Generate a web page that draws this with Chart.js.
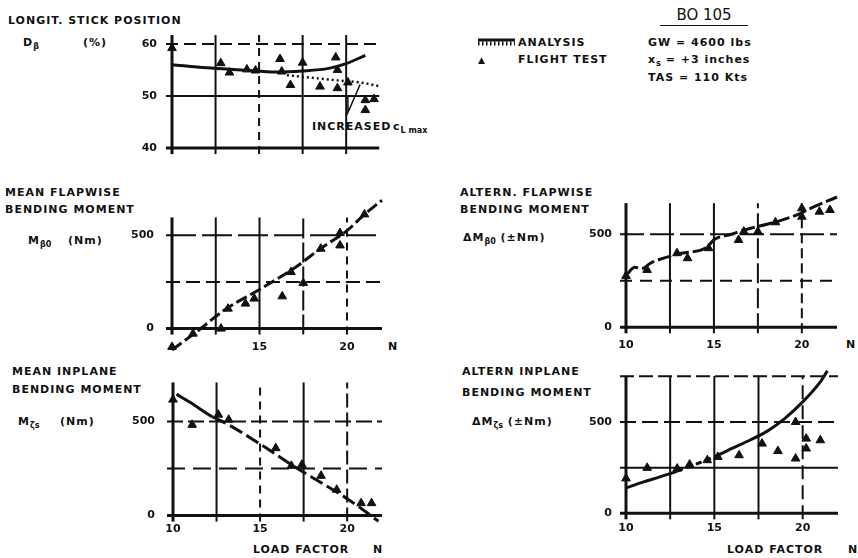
<!DOCTYPE html>
<html lang="en">
<head>
<meta charset="utf-8">
<title>BO 105 - load factor</title>
<script src="https://cdn.jsdelivr.net/npm/chart.js@4.4.1/dist/chart.umd.min.js"></script>
<style>
  body { margin: 0; background: #fff; }
  #lamina { position: relative; width: 858px; height: 558px; overflow: hidden; background: #fff; color: #111; }
  #lamina canvas { position: absolute; }
  .t { position: absolute; font: bold 11px "DejaVu Sans", sans-serif; letter-spacing: 1px; white-space: nowrap; line-height: 12px; }
  .t sub { font-size: 8px; vertical-align: -3px; letter-spacing: 0; }
  .titulo { position: absolute; left: 660px; top: 6px; width: 88px; text-align: center; font: 15px "DejaVu Sans", sans-serif; border-bottom: 1.5px solid #111; line-height: 19px; }
</style>
</head>
<body>
<div id="lamina">
  <div class="t" style="left:8px;top:15px">LONGIT. STICK POSITION</div>
  <div class="t" style="left:23px;top:37px">D<sub>β</sub></div>
  <div class="t" style="left:83px;top:37px">(%)</div>
  <div class="t" style="left:312px;top:121px">INCREASED</div>
  <div class="t" style="left:393px;top:121px">c<sub>L max</sub></div>

  <div class="t" style="left:5px;top:187px">MEAN FLAPWISE</div>
  <div class="t" style="left:5px;top:204px">BENDING MOMENT</div>
  <div class="t" style="left:28px;top:235px">M<sub>β0</sub></div>
  <div class="t" style="left:68px;top:235px">(Nm)</div>
  <div class="t" style="left:388px;top:341px">N</div>

  <div class="t" style="left:12px;top:366px">MEAN INPLANE</div>
  <div class="t" style="left:12px;top:384px">BENDING MOMENT</div>
  <div class="t" style="left:18px;top:416px">M<sub>ζs</sub></div>
  <div class="t" style="left:60px;top:416px">(Nm)</div>
  <div class="t" style="left:253px;top:544px">LOAD FACTOR</div>
  <div class="t" style="left:373px;top:544px">N</div>

  <div class="t" style="left:460px;top:187px">ALTERN. FLAPWISE</div>
  <div class="t" style="left:460px;top:204px">BENDING MOMENT</div>
  <div class="t" style="left:463px;top:232px">ΔM<sub>β0</sub> (±Nm)</div>
  <div class="t" style="left:846px;top:339px">N</div>

  <div class="t" style="left:462px;top:366px">ALTERN INPLANE</div>
  <div class="t" style="left:462px;top:387px">BENDING MOMENT</div>
  <div class="t" style="left:472px;top:416px">ΔM<sub>ζs</sub> (±Nm)</div>
  <div class="t" style="left:727px;top:544px">LOAD FACTOR</div>
  <div class="t" style="left:848px;top:544px">N</div>

  <!-- Leyenda y datos del vuelo -->
  <svg style="position:absolute;left:478px;top:38px" width="37" height="9">
    <line x1="0" y1="2" x2="37" y2="2" stroke="#111" stroke-width="3"/>
    <line x1="0" y1="5.5" x2="37" y2="5.5" stroke="#111" stroke-width="4" stroke-dasharray="1.5 2.5"/>
  </svg>
  <div class="t" style="left:518px;top:37px">ANALYSIS</div>
  <div class="t" style="left:478px;top:54px;font-size:9px">▲</div>
  <div class="t" style="left:518px;top:54px">FLIGHT TEST</div>
  <div class="titulo">BO 105</div>
  <div class="t" style="left:648px;top:37px">GW = 4600 lbs</div>
  <div class="t" style="left:648px;top:54px">x<sub>s</sub> = +3 inches</div>
  <div class="t" style="left:648px;top:72px">TAS = 110 Kts</div>
</div>

<script>
// Factor de carga: ticks y líneas verticales comunes
const ticksX = [10, 15, 20];
const ticksXFlap = [15, 20];
const lineasX = [10, 12.5, 15, 17.5, 20];

// Panel 1: posición longitudinal del mando (%)
const palancaTicks = [40, 50, 60];
const palancaAnalisisX = [10, 12, 14, 16, 17.5, 19, 20, 21.1];
const palancaAnalisisY = [56, 55.4, 55, 54.6, 54.8, 55.3, 56.2, 57.8];
const palancaClmaxX = [16.6, 18, 19.5, 21, 22];
const palancaClmaxY = [54, 53.5, 53, 52.5, 51.8];
const palancaVueloX = [10.0, 12.8, 13.3, 14.3, 14.8, 16.2, 16.3, 16.8, 17.5, 18.5, 19.4, 19.5, 19.5, 20.1, 21.1, 21.6, 21.1];
const palancaVueloY = [59.2, 56.3, 54.5, 55.1, 54.9, 57.1, 54.7, 52.1, 56.4, 51.8, 57.4, 55.0, 51.5, 52.6, 49.2, 49.4, 47.3];
const flechaX = [20.1, 20.1, 20.8];
const flechaY = [50.2, 46.8, 52.2];

// Panel 2: momento medio de flexión en batimiento (Nm)
const momentoTicks = [0, 500];
const flapMedioAnalisisX = [10, 11.5, 13, 15, 17, 18.5, 20, 21, 22];
const flapMedioAnalisisY = [-115, -10, 100, 210, 325, 430, 525, 612, 688];
const flapMedioVueloX = [10.0, 11.2, 12.8, 13.2, 14.2, 14.7, 16.3, 16.8, 17.5, 18.5, 19.6, 19.6, 21.0];
const flapMedioVueloY = [-98, -27, 0, 107, 134, 161, 173, 303, 244, 428, 512, 446, 612];

// Panel 3: momento medio de flexión en el plano (Nm)
const planoMedioAnalisisX = [10.2, 11, 12.3, 13, 15, 17, 18.5, 20, 21.8];
const planoMedioAnalisisY = [645, 600, 522, 492, 380, 258, 175, 90, -30];
const planoMedioVueloX = [10.0, 11.1, 12.6, 13.2, 15.9, 16.8, 17.4, 18.5, 19.4, 20.8, 21.4];
const planoMedioVueloY = [616, 482, 536, 509, 358, 264, 270, 211, 137, 66, 66];

// Panel 4: momento alterno de flexión en batimiento (±Nm)
const flapAltAnalisisX = [10.05, 10.5, 10.9, 11.4, 13, 14.6, 15.0, 16.0, 16.7, 18.6, 20, 20.4, 22];
const flapAltAnalisisY = [285, 322, 316, 345, 395, 430, 470, 500, 522, 568, 615, 635, 700];
const flapAltVueloX = [10.0, 11.2, 12.9, 13.5, 14.7, 16.4, 16.7, 17.5, 18.5, 20.0, 20.0, 21.0, 21.6];
const flapAltVueloY = [276, 308, 398, 371, 425, 469, 514, 514, 564, 639, 594, 621, 630];

// Panel 5: momento alterno de flexión en el plano (±Nm)
const planoAltAnalisisX = [10, 11, 12, 12.9, 13.6, 14.3, 15.2, 16, 17, 18, 19, 20, 21, 21.4];
const planoAltAnalisisY = [140, 172, 202, 231, 256, 282, 318, 355, 400, 450, 520, 610, 720, 780];
const planoAltVueloX = [10.0, 11.2, 12.9, 13.6, 14.6, 15.2, 16.4, 17.7, 18.6, 19.6, 19.6, 20.2, 20.2, 21.0];
const planoAltVueloY = [191, 249, 245, 267, 291, 309, 318, 382, 341, 500, 300, 409, 355, 400];

const negro = '#111';
const fuente = { family: 'DejaVu Sans', weight: 'bold', size: 11 };
const liso = [];

function unir(xs, ys) {
    return xs.map((x, i) => ({ x: x, y: ys[i] }));
}

function serieAnalisis(xs, ys, extra) {
    return Object.assign({
        data: unir(xs, ys),
        showLine: true,
        borderColor: negro,
        borderWidth: 3,
        pointRadius: 0,
        cubicInterpolationMode: 'monotone',
        clip: false
    }, extra || {});
}

function serieVuelo(xs, ys) {
    return {
        data: unir(xs, ys),
        pointStyle: 'triangle',
        pointRadius: 5,
        backgroundColor: negro,
        borderColor: negro,
        borderWidth: 1,
        clip: false
    };
}

// Quita el relleno que Chart.js reserva para las etiquetas, así el área queda fija
function sinRelleno(s) {
    s.paddingTop = 0;
    s.paddingBottom = 0;
    s.paddingLeft = 0;
    s.paddingRight = 0;
}

// Dibuja la rejilla del original: líneas lisas o a trazos, con marcas que sobresalen
const pluginRejilla = {
    id: 'rejilla',
    beforeDatasetsDraw(chart, args, opts) {
        const { ctx } = chart;
        const x = chart.scales.x;
        const y = chart.scales.y;
        const yBase = y.getPixelForValue(opts.base);
        const yTope = y.getPixelForValue(opts.tope);
        const xIni = x.getPixelForValue(10);
        const xFin = x.getPixelForValue(opts.fin);
        ctx.save();
        ctx.strokeStyle = negro;
        opts.verticales.forEach((trazo, i) => {
            const px = x.getPixelForValue(lineasX[i]);
            ctx.lineWidth = i === 0 ? 3 : 2;
            ctx.setLineDash(trazo);
            ctx.beginPath();
            ctx.moveTo(px, yBase + 6);
            ctx.lineTo(px, yTope);
            ctx.stroke();
        });
        opts.horizontales.forEach(([valor, trazo]) => {
            const py = y.getPixelForValue(valor);
            ctx.lineWidth = valor === opts.base ? 3 : 2;
            ctx.setLineDash(trazo);
            ctx.beginPath();
            ctx.moveTo(xIni - 6, py);
            ctx.lineTo(xFin, py);
            ctx.stroke();
        });
        ctx.restore();
    }
};

function crearPanel(p) {
    const lienzo = document.createElement('canvas');
    lienzo.width = p.area.der - p.area.izq + p.margen.izq + p.margen.der;
    lienzo.height = p.area.inf - p.area.sup + p.margen.sup + p.margen.inf;
    lienzo.style.left = (p.area.izq - p.margen.izq) + 'px';
    lienzo.style.top = (p.area.sup - p.margen.sup) + 'px';
    document.getElementById('lamina').appendChild(lienzo);

    return new Chart(lienzo, {
        type: 'scatter',
        data: { datasets: p.series },
        options: {
            responsive: false,
            animation: false,
            layout: { padding: { top: p.margen.sup, right: p.margen.der, bottom: p.margen.inf, left: 0 } },
            plugins: {
                legend: { display: false },
                tooltip: { enabled: false },
                rejilla: p.rejilla
            },
            scales: {
                x: {
                    type: 'linear',
                    min: 10,
                    max: 22,
                    position: { y: p.rejilla.base },
                    grid: { display: false, drawTicks: false },
                    border: { display: false },
                    afterBuildTicks: (s) => { s.ticks = p.ticksX.map(v => ({ value: v })); },
                    afterFit: sinRelleno,
                    ticks: {
                        display: p.ticksX.length > 0,
                        autoSkip: false,
                        maxRotation: 0,
                        padding: p.padX,
                        color: negro,
                        font: fuente,
                        callback: (v) => String(v)
                    }
                },
                y: {
                    type: 'linear',
                    min: p.yMin,
                    max: p.yMax,
                    position: 'left',
                    grid: { display: false, drawTicks: false },
                    border: { display: false },
                    afterBuildTicks: (s) => { s.ticks = p.ticksY.map(v => ({ value: v })); },
                    afterFit: (s) => { sinRelleno(s); s.width = p.margen.izq; },
                    ticks: {
                        autoSkip: false,
                        padding: p.padY,
                        color: negro,
                        font: fuente,
                        callback: (v) => String(v)
                    }
                }
            }
        },
        plugins: [pluginRejilla]
    });
}

// Panel 1: mando longitudinal
crearPanel({
    area: { izq: 172, der: 381, sup: 34, inf: 158 },
    margen: { izq: 50, der: 12, sup: 6, inf: 6 },
    yMin: 38.1, yMax: 61.9,
    ticksX: [], ticksY: palancaTicks, padX: 0, padY: 15,
    rejilla: {
        base: 40, tope: 61.7, fin: 21.9,
        verticales: [liso, liso, [8, 6], liso, liso],
        horizontales: [[40, liso], [50, liso], [60, [12, 6]]]
    },
    series: [
        serieVuelo(palancaVueloX, palancaVueloY),
        serieAnalisis(palancaAnalisisX, palancaAnalisisY),
        serieAnalisis(palancaClmaxX, palancaClmaxY, { borderWidth: 2.5, borderDash: [2, 3] }),
        serieAnalisis(flechaX, flechaY, { borderWidth: 1.5, cubicInterpolationMode: 'default', tension: 0 })
    ]
});

// Panel 2: momento medio en batimiento
crearPanel({
    area: { izq: 172, der: 382, sup: 198, inf: 351 },
    margen: { izq: 50, der: 12, sup: 6, inf: 14 },
    yMin: -120, yMax: 700,
    ticksX: ticksXFlap, ticksY: momentoTicks, padX: 12, padY: 18,
    rejilla: {
        base: 0, tope: 596, fin: 22,
        verticales: [liso, liso, liso, [20, 4], [8, 6]],
        horizontales: [[0, liso], [250, [14, 6]], [500, [30, 6]]]
    },
    series: [
        serieVuelo(flapMedioVueloX, flapMedioVueloY),
        serieAnalisis(flapMedioAnalisisX, flapMedioAnalisisY, { borderDash: [12, 4] })
    ]
});

// Panel 3: momento medio en el plano
crearPanel({
    area: { izq: 173, der: 382, sup: 380, inf: 525 },
    margen: { izq: 50, der: 12, sup: 6, inf: 18 },
    yMin: -50, yMax: 720,
    ticksX: ticksX, ticksY: momentoTicks, padX: 7, padY: 18,
    rejilla: {
        base: 0, tope: 707, fin: 22,
        verticales: [liso, liso, [8, 6], liso, [14, 5]],
        horizontales: [[0, liso], [250, [18, 8]], [500, [16, 5]]]
    },
    series: [
        serieVuelo(planoMedioVueloX, planoMedioVueloY),
        serieAnalisis(planoMedioAnalisisX, planoMedioAnalisisY, {
            segment: { borderDash: (c) => (c.p0.parsed.x < 12.3 ? [] : [14, 5]) }
        })
    ]
});

// Panel 4: momento alterno en batimiento
crearPanel({
    area: { izq: 626, der: 837, sup: 197, inf: 331 },
    margen: { izq: 40, der: 12, sup: 6, inf: 26 },
    yMin: -20, yMax: 700,
    ticksX: ticksX, ticksY: momentoTicks, padX: 11, padY: 14,
    rejilla: {
        base: 0, tope: 667, fin: 22,
        verticales: [liso, liso, liso, [20, 5], [10, 5]],
        horizontales: [[0, liso], [250, [12, 8]], [500, [24, 6]]]
    },
    series: [
        serieVuelo(flapAltVueloX, flapAltVueloY),
        serieAnalisis(flapAltAnalisisX, flapAltAnalisisY, { borderDash: [14, 4] })
    ]
});

// Panel 5: momento alterno en el plano
crearPanel({
    area: { izq: 626, der: 838, sup: 369, inf: 517 },
    margen: { izq: 40, der: 12, sup: 6, inf: 20 },
    yMin: -20, yMax: 790,
    ticksX: ticksX, ticksY: momentoTicks, padX: 8, padY: 14,
    rejilla: {
        base: 0, tope: 752, fin: 22,
        verticales: [liso, liso, liso, liso, [14, 6]],
        horizontales: [[0, liso], [250, liso], [500, [16, 6]], [750, [14, 5]]]
    },
    series: [
        serieVuelo(planoAltVueloX, planoAltVueloY),
        serieAnalisis(planoAltAnalisisX, planoAltAnalisisY, {
            segment: { borderDash: (c) => (c.p0.parsed.x >= 12.9 && c.p0.parsed.x < 15.2 ? [6, 4] : []) }
        })
    ]
});
</script>
</body>
</html>
